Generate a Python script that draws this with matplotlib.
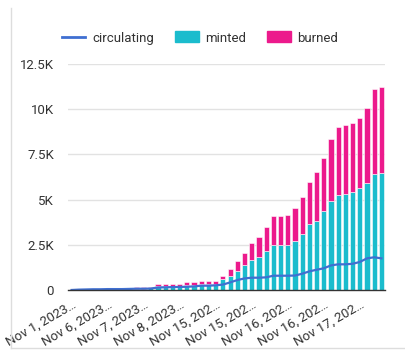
import matplotlib
matplotlib.use("Agg")
import matplotlib.pyplot as plt
from matplotlib.ticker import FuncFormatter, FixedLocator
from matplotlib.patches import Rectangle
from matplotlib.lines import Line2D

plt.rcParams['font.family'] = ['Roboto', 'DejaVu Sans']

# token supply per snapshot (one bar per snapshot)
minted = [0, 20, 30, 30, 30, 40, 40, 40, 50, 80, 80, 90,
          220, 220, 230, 230, 280, 280, 320, 320, 340, 590,
          790, 1070, 1360, 1660, 1840, 2160, 2470, 2470, 2470, 2730,
          3120, 3630, 3830, 4350, 4900, 5240, 5290, 5420, 5620, 5940,
          6430, 6490]
burned = [0, 30, 40, 40, 40, 40, 40, 40, 50, 60, 70, 70,
          110, 120, 120, 120, 150, 160, 180, 180, 180, 200,
          370, 550, 700, 920, 1090, 1340, 1620, 1620, 1680, 1810,
          2040, 2340, 2700, 2930, 3470, 3760, 3820, 3840, 3880, 4130,
          4670, 4760]
circulating = [0, 20, 30, 40, 40, 50, 50, 50, 60, 70, 70, 80,
               140, 150, 160, 170, 180, 200, 240, 240, 260, 300,
               420, 550, 640, 680, 680, 700, 790, 790, 790, 800,
               900, 1030, 1120, 1200, 1360, 1420, 1420, 1450, 1550, 1750,
               1810, 1750]
tick_labels = ["Nov 1, 2023…", "Nov 6, 2023…", "Nov 7, 2023…", "Nov 8, 2023…",
               "Nov 15, 202…", "Nov 15, 202…", "Nov 16, 202…", "Nov 16, 202…",
               "Nov 17, 202…"]
y_ticks = [0, 2500, 5000, 7500, 10000, 12500]

CYAN = '#1bbccd'
PINK = '#ec1a8c'
BLUE = '#3f6fd1'

fig = plt.figure(figsize=(4.05, 3.5), dpi=100)
ax = fig.add_axes([68 / 405, 1 - 290 / 350, 317 / 405, 226 / 350])

x = list(range(len(minted)))
ax.bar(x, minted, width=0.72, color=CYAN, edgecolor='white', linewidth=0.4, zorder=2)
ax.bar(x, burned, bottom=minted, width=0.72, color=PINK, edgecolor='white',
       linewidth=0.4, zorder=2)
ax.plot(x, circulating, color=BLUE, linewidth=1.6, zorder=3)

ax.set_xlim(-0.5, len(minted) - 0.5)
ax.set_ylim(0, 12500)


def k_fmt(v, pos):
    if v == 0:
        return '0'
    return ('%g' % (v / 1000)) + 'K'


ax.yaxis.set_major_locator(FixedLocator(y_ticks))
ax.yaxis.set_major_formatter(FuncFormatter(k_fmt))
ax.set_xticks(range(0, len(minted), 5))
ax.set_xticklabels(tick_labels, rotation=30, ha='right', rotation_mode='anchor')
ax.tick_params(axis='both', length=0, labelsize=9.5, labelcolor='#333333')
ax.tick_params(axis='y', pad=10)
ax.tick_params(axis='x', pad=6)
ax.grid(axis='y', color='#e2e2e2', linewidth=1, zorder=0)
ax.set_axisbelow(True)
for side in ['left', 'right', 'top']:
    ax.spines[side].set_visible(False)
ax.spines['bottom'].set_color('#333333')
ax.spines['bottom'].set_linewidth(1)
ax.spines['bottom'].set_zorder(4)

handles = [Line2D([], [], color=BLUE, linewidth=2),
           Rectangle((0, 0), 1, 1, color=CYAN),
           Rectangle((0, 0), 1, 1, color=PINK)]
fig.legend(handles, ['circulating', 'minted', 'burned'], loc='center',
           bbox_to_anchor=(200 / 405, 1 - 38 / 350), ncol=3, frameon=False,
           fontsize=9.5, handlelength=1.8, handleheight=0.9, columnspacing=1.6,
           handletextpad=0.5, labelcolor='#333333')

# card border on the left and bottom edges
fig.add_artist(Line2D([11 / 405, 11 / 405], [2 / 350, 1 - 8 / 350],
                      color='#dddddd', linewidth=1, transform=fig.transFigure))
fig.add_artist(Line2D([11 / 405, 1], [2 / 350, 2 / 350],
                      color='#dddddd', linewidth=1, transform=fig.transFigure))

fig.savefig('out.png', dpi=100)
